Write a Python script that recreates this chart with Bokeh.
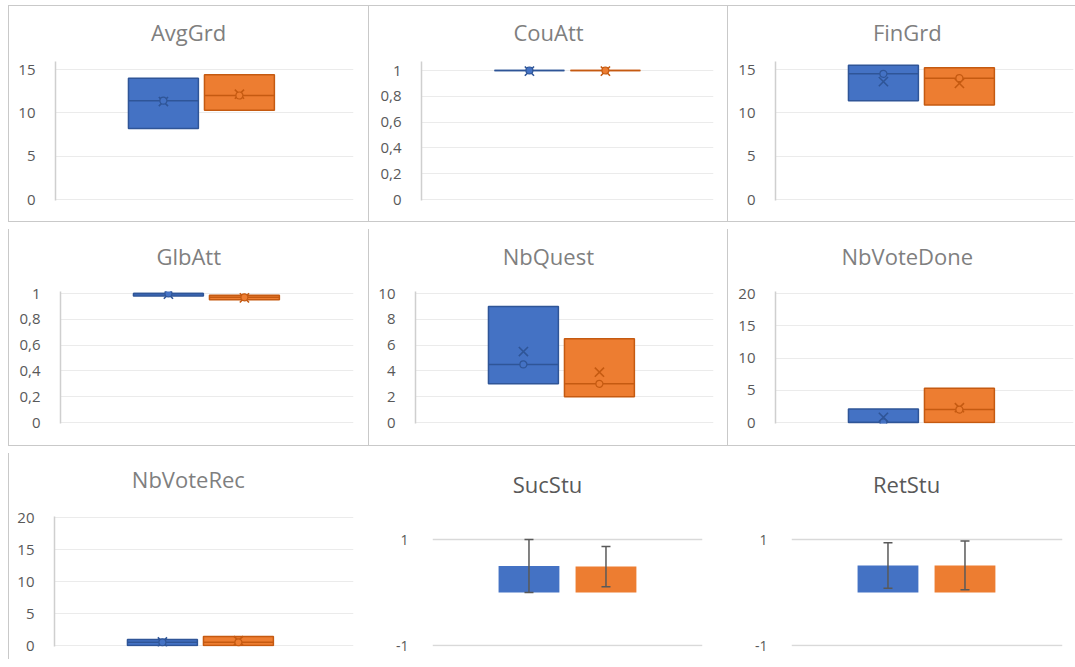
from bokeh.plotting import figure
from bokeh.layouts import row, column
from bokeh.models import (Range1d, FixedTicker, CustomJSTickFormatter, Title,
                          ColumnDataSource, Whisker, TeeHead)
from bokeh.embed import file_html
from bokeh.resources import INLINE

# ---------------- data ----------------
box_titles = ["AvgGrd", "CouAtt", "FinGrd", "GlbAtt", "NbQuest", "NbVoteDone", "NbVoteRec"]
blue_q1 = [8.2, 1.0, 11.4, 0.98, 3.0, 0.0, 0.0]
blue_median = [11.4, 1.0, 14.5, 1.0, 4.5, 0.0, 0.5]
blue_q3 = [14.0, 1.0, 15.5, 1.0, 9.0, 2.1, 0.95]
blue_mean = [11.3, 0.995, 13.6, 0.995, 5.5, 0.8, 0.55]
orange_q1 = [10.3, 1.0, 10.9, 0.951, 2.0, 0.0, 0.0]
orange_median = [12.0, 1.0, 14.0, 0.97, 3.0, 2.0, 0.5]
orange_q3 = [14.4, 1.0, 15.2, 0.987, 6.5, 5.3, 1.4]
orange_mean = [12.15, 0.995, 13.4, 0.966, 3.9, 2.3, 0.75]
box_tick_values = [
    [0, 5, 10, 15],
    [0, 0.2, 0.4, 0.6, 0.8, 1],
    [0, 5, 10, 15],
    [0, 0.2, 0.4, 0.6, 0.8, 1],
    [0, 2, 4, 6, 8, 10],
    [0, 5, 10, 15, 20],
    [0, 5, 10, 15, 20],
]
bar_titles = ["SucStu", "RetStu"]
blue_bar = [0.5, 0.51]
blue_err = [0.5, 0.43]
orange_bar = [0.49, 0.51]
orange_err = [0.38, 0.46]
bar_tick_values = [-1, 1]

# ---------------- styling / layout ----------------
BLUE, BLUE_DARK = "#4472C4", "#2F5597"
ORANGE, ORANGE_DARK = "#ED7D31", "#C55A11"
BORDER = "1px solid #C9C9C9"
FONT = "Open Sans"
TITLE_SIZE = 22
series_pos = [0, 1]
TITLE_X = 179  # title centre, px from the panel's left edge
ROW_FRAME_TOP = [55, 62, 63]  # frames in one row share their top edge

# approximate Open Sans advance widths (em) used to centre titles on the panel
OS_W = {"A": .633, "C": .631, "D": .728, "F": .541, "G": .713, "N": .765, "Q": .778,
        "R": .618, "S": .549, "V": .592, "b": .614, "c": .482, "d": .614, "e": .561,
        "g": .549, "i": .253, "l": .253, "n": .614, "o": .604, "r": .408, "s": .477,
        "t": .353, "u": .614, "v": .501}

# (row, width, height, frame_left, px_of_top_tick, px_of_bottom_tick, right_margin,
#  title_baseline, borders)
box_layout = [
    (0, 360, 217, 46, 63, 193, 16, 36, "ltb"),
    (0, 359, 217, 52, 64, 193, 15, 36, "ltb"),
    (0, 348, 217, 47, 63, 193, 3, 36, "ltb"),
    (1, 360, 217, 51, 64, 193, 16, 37, "lb"),
    (1, 359, 217, 46, 64, 193, 15, 37, "lb"),
    (1, 348, 217, 47, 64, 193, 3, 37, "lb"),
    (2, 360, 206, 45, 64, 192, 16, 36, "l"),
]
bar_layout = [
    (2, 359, 206, 64, 86, 192, 25, 41, ""),
    (2, 348, 206, 64, 86, 192, 13, 41, ""),
]

fmt = CustomJSTickFormatter(code="return (Math.round(tick*100)/100).toString().replace('.', ',');")


def border_styles(b):
    st = {}
    if "l" in b:
        st["border-left"] = BORDER
    if "t" in b:
        st["border-top"] = BORDER
    if "b" in b:
        st["border-bottom"] = BORDER
    return st


def base_fig(spec, ticks, x_start, x_unit):
    r, w, h, fl, ytop, ybot, rm, tb, borders = spec
    F = ROW_FRAME_TOP[r]
    vmin, vtop = ticks[0], ticks[-1]
    ppu = (ybot - ytop) / (vtop - vmin)
    fw = w - fl - rm
    xr = Range1d(x_start, x_start + fw / x_unit)
    yr = Range1d(vmin - 1.0 / ppu, vmin + (ybot - F) / ppu)
    p = figure(width=w, height=h, output_backend="svg", toolbar_location=None,
               x_range=xr, y_range=yr, tools="")
    p.min_border_left = fl
    p.min_border_top = F
    p.min_border_bottom = h - ybot - 1
    p.min_border_right = rm
    p.outline_line_color = None
    p.background_fill_color = "white"
    p.border_fill_color = "white"
    p.xaxis.visible = False
    p.xgrid.visible = False
    p.yaxis.ticker = FixedTicker(ticks=ticks)
    p.yaxis.formatter = fmt
    p.yaxis.major_tick_line_color = None
    p.yaxis.minor_tick_line_color = None
    p.yaxis.major_label_text_font = FONT
    p.yaxis.major_label_text_color = "#595959"
    p.styles = border_styles(borders)
    return p


def set_title(p, spec, text, color):
    r, w, h, fl, ytop, ybot, rm, tb, borders = spec
    F = ROW_FRAME_TOP[r]
    width = sum(OS_W.get(ch, 0.58) for ch in text) * TITLE_SIZE
    offset = TITLE_X - fl - width / 2.0
    text_bottom = tb + 0.293 * TITLE_SIZE
    pad_bottom = int(round(max(0, F - text_bottom + 2)))
    p.title = Title(text=text, align="left", offset=offset, standoff=0,
                    vertical_align="bottom", text_font=FONT,
                    padding=dict(left=0, right=0, top=0, bottom=pad_bottom),
                    text_font_size=f"{TITLE_SIZE}px", text_font_style="normal",
                    text_color=color)


figs = []
for i, title in enumerate(box_titles):
    spec = box_layout[i]
    p = base_fig(spec, box_tick_values[i], -1.42, 76.0)
    p.yaxis.axis_line_color = "#CFCFCF"
    p.yaxis.axis_line_width = 1.5
    p.yaxis.major_label_text_font_size = "15px"
    p.yaxis.major_label_standoff = 14
    p.ygrid.grid_line_color = "#EBEBEB"
    p.ygrid.grid_line_width = 1
    for k, (q1, med, q3, mean, fill, dark) in enumerate([
        (blue_q1, blue_median, blue_q3, blue_mean, BLUE, BLUE_DARK),
        (orange_q1, orange_median, orange_q3, orange_mean, ORANGE, ORANGE_DARK),
    ]):
        xpos = series_pos[k]
        p.vbar(x=[xpos], width=0.92, bottom=[q1[i]], top=[q3[i]],
               fill_color=fill, line_color=dark, line_width=1.5)
        p.segment(x0=[xpos - 0.46], x1=[xpos + 0.46], y0=[med[i]], y1=[med[i]],
                  line_color=dark, line_width=1.5)
        p.scatter(x=[xpos], y=[mean[i]], marker="x", size=13,
                  line_color=dark, line_width=1.6)
        p.scatter(x=[xpos], y=[med[i]], marker="circle", size=7,
                  fill_color=fill, line_color=dark, line_width=1.2)
    set_title(p, spec, title, "#7F7F7F")
    figs.append(p)

for j, title in enumerate(bar_titles):
    spec = bar_layout[j]
    p = base_fig(spec, bar_tick_values, -1.253, 77.0)
    p.yaxis.axis_line_color = None
    p.yaxis.major_label_text_font_size = "14px"
    p.yaxis.major_label_standoff = 18
    p.ygrid.grid_line_color = "#D9D9D9"
    p.ygrid.grid_line_width = 1.5
    vals = [blue_bar[j], orange_bar[j]]
    errs = [blue_err[j], orange_err[j]]
    src = ColumnDataSource(dict(
        x=series_pos, top=vals, color=[BLUE, ORANGE],
        upper=[v + e for v, e in zip(vals, errs)],
        lower=[v - e for v, e in zip(vals, errs)],
    ))
    p.vbar(x="x", top="top", bottom=0, width=0.79, fill_color="color",
           line_color=None, source=src)
    p.add_layout(Whisker(source=src, base="x", upper="upper", lower="lower",
                         level="overlay",
                         line_color="#595959", line_width=1.5,
                         upper_head=TeeHead(size=9, line_color="#595959", line_width=1.5),
                         lower_head=TeeHead(size=9, line_color="#595959", line_width=1.5)))
    set_title(p, spec, title, "#595959")
    figs.append(p)

layout = column(
    row(figs[0], figs[1], figs[2], spacing=0),
    row(figs[3], figs[4], figs[5], spacing=0),
    row(figs[6], figs[7], figs[8], spacing=0),
    spacing=7,
    margin=(5, 0, 0, 8),
)

open("out.html", "w").write(file_html(layout, INLINE))
